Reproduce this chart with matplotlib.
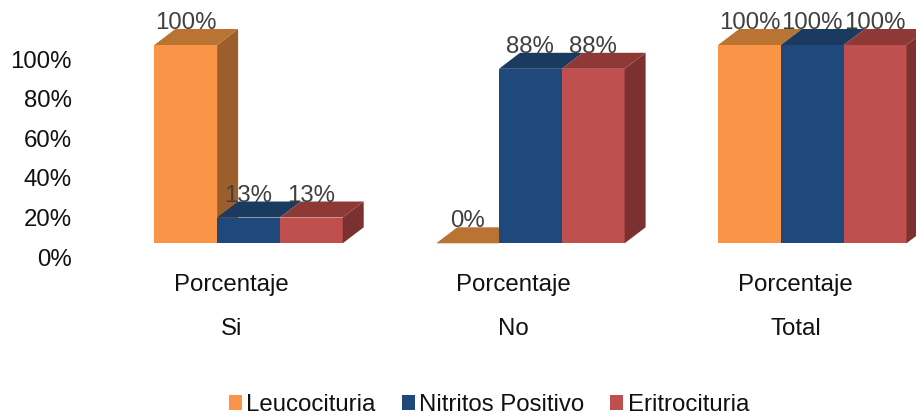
import matplotlib
matplotlib.use("Agg")
import matplotlib.pyplot as plt
from matplotlib.patches import Patch, Polygon
from matplotlib.transforms import ScaledTranslation

groups = ["Si", "No", "Total"]
sub_label = "Porcentaje"
series = ["Leucocituria", "Nitritos Positivo", "Eritrocituria"]
leucocituria = [100, 0, 100]
nitritos = [13, 88, 100]
eritrocituria = [13, 88, 100]
y_ticks = [0, 20, 40, 60, 80, 100]

front_colors = ["#FA9548", "#1F497D", "#C0504D"]
top_colors = ["#B97433", "#1A3A60", "#8F3936"]
side_colors = ["#9C5F2C", "#173354", "#7B3130"]

plt.rcParams["font.family"] = ["Liberation Sans", "DejaVu Sans"]

W, H = 916, 415
DPI = 100
FS = 17.3
fig = plt.figure(figsize=(W / DPI, H / DPI), dpi=DPI)

# axes run from the bar floor up to the top edge of the figure
left_px, right_px, floor_px = 72, 916, 243.3
ax = fig.add_axes([left_px / W, 1 - floor_px / H, (right_px - left_px) / W, floor_px / H])
px_per_group = 281.9
px_per_pct = 1.983
first_center = 248.5
ax.set_xlim((left_px - first_center) / px_per_group, (right_px - first_center) / px_per_group)
ax.set_ylim(0, floor_px / px_per_pct)
for s in ax.spines.values():
    s.set_visible(False)
ax.patch.set_visible(False)

bar_w = 62.8 / px_per_group
depth_x = 21 / px_per_group
depth_y = 16 / px_per_pct


def draw_bar(x0, value, idx, show_side):
    x1 = x0 + bar_w
    if value > 0:
        ax.add_patch(Polygon([(x0, 0), (x1, 0), (x1, value), (x0, value)],
                             fc=front_colors[idx], ec="none", zorder=3))
        if show_side:
            ax.add_patch(Polygon([(x1, 0), (x1 + depth_x, depth_y), (x1 + depth_x, value + depth_y), (x1, value)],
                                 fc=side_colors[idx], ec="none", zorder=3, clip_on=False))
    ax.add_patch(Polygon([(x0, value), (x1, value), (x1 + depth_x, value + depth_y), (x0 + depth_x, value + depth_y)],
                         fc=top_colors[idx], ec="none", zorder=3, clip_on=False))


all_series = [leucocituria, nitritos, eritrocituria]
for g in range(len(groups)):
    for i, vals in enumerate(all_series):
        x0 = g + (i - 1.5) * bar_w
        # a side face is hidden when the next bar is at least as tall
        hidden = i < 2 and all_series[i + 1][g] >= vals[g]
        draw_bar(x0, vals[g], i, not hidden)
        ax.annotate(f"{vals[g]}%", (x0 + bar_w / 2, vals[g]), xytext=(0, 11.5), textcoords="offset points",
                    ha="center", va="baseline", fontsize=FS, color="#404040", zorder=5)
    # two-level category labels under each group
    ax.annotate(sub_label, (g, 0), xytext=(-12, -30.2), textcoords="offset points",
                ha="center", va="center", fontsize=FS, color="#111111")
    ax.annotate(groups[g], (g, 0), xytext=(-12, -62), textcoords="offset points",
                ha="center", va="center", fontsize=FS, color="#111111")

ax.set_xticks([])
ax.set_yticks(y_ticks)
ax.set_yticklabels([f"{v}%" for v in y_ticks], fontsize=FS, color="#111111")
ax.tick_params(axis="y", length=0, pad=0)
# tick labels sit a little below their bar-front heights
shift = ScaledTranslation(0, -14 / DPI, fig.dpi_scale_trans)
for lab in ax.get_yticklabels():
    lab.set_transform(lab.get_transform() + shift)

handles = [Patch(fc=c, ec="none", label=s) for c, s in zip(front_colors, series)]
fig.legend(handles=handles, loc="center", bbox_to_anchor=(489 / W, 1 - 405 / H), ncol=3, frameon=False,
           fontsize=FS, handlelength=0.54, handleheight=0.54, handletextpad=0.19, columnspacing=1.08,
           labelcolor="#111111", borderpad=0, borderaxespad=0)

fig.savefig("out.png", dpi=DPI)
